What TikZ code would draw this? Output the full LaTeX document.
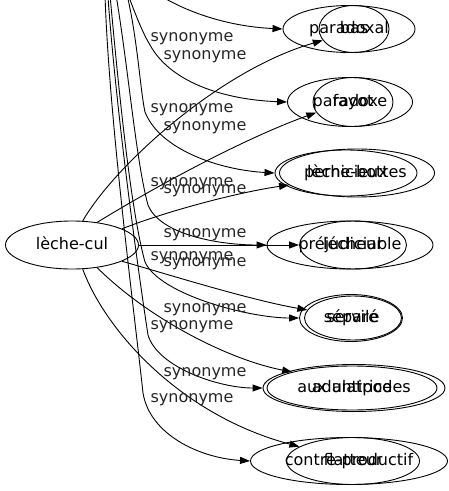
\documentclass[tikz,border=0pt]{standalone}
\usepackage{fontspec}
\setmainfont{DejaVu Sans}
\usetikzlibrary{shapes.geometric,arrows.meta}
\begin{document}
\begin{tikzpicture}[x=1pt,y=-1pt,
  every node/.style={font=\fontsize{16}{19}\selectfont,text height=11.5pt,text depth=3.5pt},
  nd/.style={draw,ellipse,inner sep=0pt,line width=0.9pt},
  lbl/.style={inner sep=0pt,text=black!85},
  ed/.style={draw,line width=0.9pt,-{Triangle[length=10pt,width=7pt]}}]
\useasboundingbox (0,0) rectangle (449,491);
\clip (0,0) rectangle (449,491);
\coordinate (src) at (105,-60);
\node[nd,minimum width=133pt,minimum height=48pt] (lc) at (72,245) {lèche-cul};
\node[nd,minimum width=132pt,minimum height=47pt] (paradoxal) at (349,29) {paradoxal};
\node[nd,minimum width=70pt,minimum height=47pt] (bas) at (354,29) {bas};
\node[nd,minimum width=125pt,minimum height=49pt] (paradoxe) at (350,102) {paradoxe};
\node[nd,minimum width=80pt,minimum height=49pt] (fayot) at (353,102) {fayot};
\node[nd,minimum width=155pt,minimum height=48pt] (lb) at (357,173) {lèche-bottes};
\node[nd,minimum width=142pt,minimum height=46pt] (pern) at (346,173) {pernicieux};
\node[nd,minimum width=166pt,minimum height=48pt] (prej) at (350,245) {préjudiciable};
\node[nd,minimum width=107pt,minimum height=48pt] (lech) at (353,245) {lécheur};
\node[nd,minimum width=103pt,minimum height=47pt] (sep) at (351,318) {séparé};
\node[nd,minimum width=97pt,minimum height=44pt] (serv) at (353,318) {servile};
\node[nd,minimum width=182pt,minimum height=47pt] (anti) at (354,388) {aux antipodes};
\node[nd,minimum width=170pt,minimum height=44pt] (adul) at (352,388) {adulatrice};
\node[nd,minimum width=197pt,minimum height=47pt] (cp) at (349,461) {contre-productif};
\node[nd,minimum width=133pt,minimum height=47pt] (flat) at (353,461) {flatteur};
% edges from lèche-cul
\draw[ed] (lc.66) .. controls (115,165) and (220,70) .. (bas.200);
\draw[ed] (lc.42) .. controls (150,190) and (240,140) .. (fayot.196);
\draw[ed] (lc.18) .. controls (170,210) and (240,192) .. (lb.190);
\draw[ed] (lc.east) -- (lech.west);
\draw[ed] (lc.-18) .. controls (170,275) and (250,300) .. (serv.170);
\draw[ed] (lc.-42) .. controls (150,320) and (230,360) .. (adul.165);
\draw[ed] (lc.-66) .. controls (105,330) and (180,415) .. (flat.165);
% edges from above
\draw[ed] (src) .. controls (130,-10) and (200,25) .. (paradoxal.west);
\draw[ed] (src) .. controls (125,-20) and (135,20) .. (150,45) .. controls (172,85) and (230,100) .. (paradoxe.west);
\draw[ed] (src) .. controls (135,-20) and (138,80) .. (145,112) .. controls (160,150) and (220,170) .. (pern.west);
\draw[ed] (src) .. controls (125,20) and (133,150) .. (148,205) .. controls (160,235) and (220,245) .. (prej.west);
\draw[ed] (src) .. controls (115,50) and (128,200) .. (145,262) .. controls (160,295) and (250,318) .. (sep.west);
\draw[ed] (src) .. controls (108,50) and (135,250) .. (148,335) .. controls (158,368) and (220,388) .. (anti.west);
\draw[ed] (src) .. controls (100,50) and (133,300) .. (143,393) .. controls (150,435) and (200,458) .. (cp.west);
% labels
\node[lbl] (s1) at (192,37) {synonyme};
\node[lbl] (s2) at (205,55) {synonyme};
\node[lbl] (s3) at (192,108) {synonyme};
\node[lbl] (s4) at (205,126) {synonyme};
\node[lbl] (s5) at (192,182) {synonyme};
\node[lbl] (s6) at (205,189) {synonyme};
\node[lbl] (s7) at (205,233) {synonyme};
\node[lbl] (s8) at (192,256) {synonyme};
\node[lbl] (s9) at (205,262) {synonyme};
\node[lbl] (s10) at (205,308) {synonyme};
\node[lbl] (s11) at (192,325) {synonyme};
\node[lbl] (s12) at (205,372) {synonyme};
\node[lbl] (s13) at (192,398) {synonyme};
\end{tikzpicture}
\end{document}
